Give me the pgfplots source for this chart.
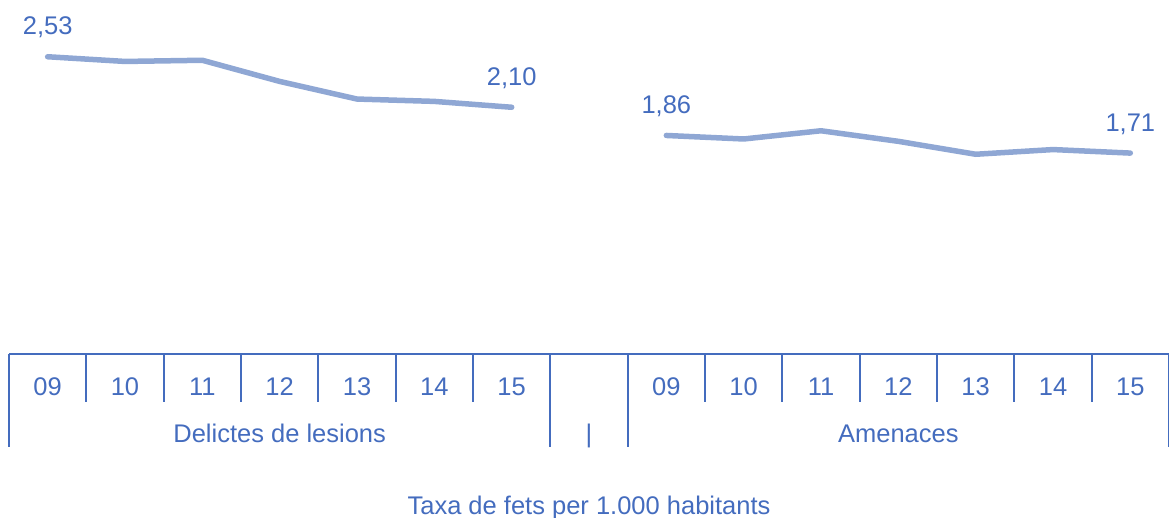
\documentclass[border=0pt]{standalone}
\usepackage{pgfplots}
\pgfplotsset{compat=1.18}
\usepackage{fontspec}
\setmainfont{Liberation Sans}
\definecolor{txtblue}{RGB}{68,108,190}
\definecolor{lineblue}{RGB}{143,167,212}
\begin{document}
\fontsize{12.75bp}{15bp}\selectfont
\begin{tikzpicture}
\path[use as bounding box] (-4.5bp,-82bp) rectangle (580bp,177bp);
\begin{axis}[
  at={(0,0)}, anchor=south west,
  scale only axis, width=580bp, height=178bp,
  xmin=-0.5, xmax=14.5, ymin=0, ymax=3.03,
  axis line style={draw=none},
  ytick=\empty,
  xtick={0,1,2,3,4,5,6,8,9,10,11,12,13,14},
  xticklabels={09,10,11,12,13,14,15,09,10,11,12,13,14,15},
  major tick length=0pt,
  xticklabel style={anchor=base, yshift=-20.5bp, text=txtblue, font=\fontsize{12.75bp}{15bp}\selectfont},
  clip=false,
]
\addplot[lineblue, line width=2.75bp, line join=round, line cap=round] coordinates {
  (0,2.53) (1,2.49) (2,2.50) (3,2.32) (4,2.17) (5,2.15) (6,2.10)
};
\addplot[lineblue, line width=2.75bp, line join=round, line cap=round] coordinates {
  (8,1.86) (9,1.83) (10,1.90) (11,1.81) (12,1.70) (13,1.74) (14,1.71)
};
% value labels
\node[anchor=base, text=txtblue, yshift=11bp] at (axis cs:0,2.53) {2,53};
\node[anchor=base, text=txtblue, yshift=11bp] at (axis cs:6,2.10) {2,10};
\node[anchor=base, text=txtblue, yshift=11bp] at (axis cs:8,1.86) {1,86};
\node[anchor=base, text=txtblue, yshift=11bp] at (axis cs:14,1.71) {1,71};
% category table
\draw[txtblue, line width=1bp] (axis cs:-0.5,0) -- (axis cs:14.5,0);
\pgfplotsinvokeforeach{-0.5,6.5,7.5,14.5}{
  \draw[txtblue, line width=1bp] (axis cs:#1,0) -- ([yshift=-46.5bp]axis cs:#1,0);
}
\pgfplotsinvokeforeach{0.5,1.5,2.5,3.5,4.5,5.5,8.5,9.5,10.5,11.5,12.5,13.5}{
  \draw[txtblue, line width=1bp] (axis cs:#1,0) -- ([yshift=-24bp]axis cs:#1,0);
}
\node[anchor=base, text=txtblue, yshift=-44bp] at (axis cs:3,0) {Delictes de lesions};
\node[anchor=base, text=txtblue, yshift=-44bp] at (axis cs:7,0) {|};
\node[anchor=base, text=txtblue, yshift=-44bp] at (axis cs:11,0) {Amenaces};
\node[anchor=base, text=txtblue, yshift=-80bp] at (axis cs:7,0) {Taxa de fets per 1.000 habitants};
\end{axis}
\end{tikzpicture}
\end{document}
